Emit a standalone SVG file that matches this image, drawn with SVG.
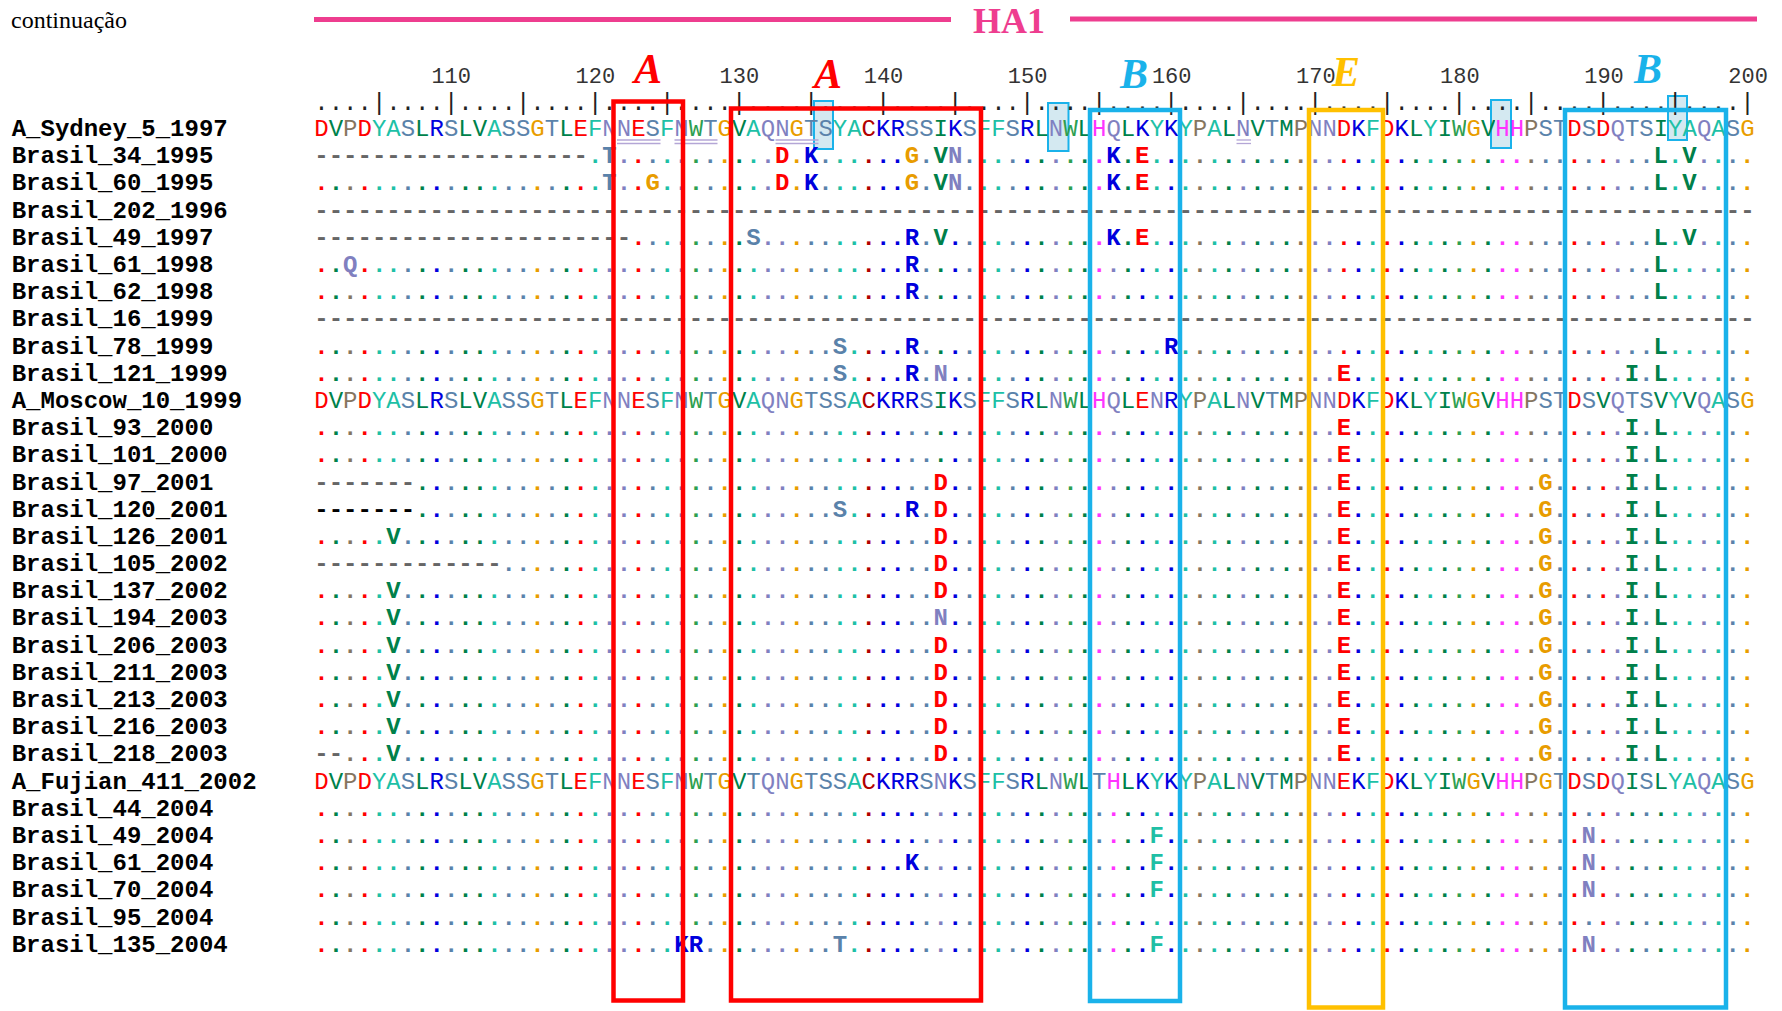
<svg xmlns="http://www.w3.org/2000/svg" width="1782" height="1011" viewBox="0 0 1782 1011">
<style>
.nm{font-family:"Liberation Mono",monospace;font-size:24px;font-weight:bold;fill:#000}
.sq{font-family:"Liberation Mono",monospace;font-size:24px}
.bd{font-weight:bold}
.cs{fill:url(#gS)}
.cf{fill:url(#gF)}
.r{fill:#ff0000;stop-color:#ff0000}
.g{fill:#00804a;stop-color:#00804a}
.p{fill:#857560;stop-color:#857560}
.t{fill:#1fbfa5;stop-color:#1fbfa5}
.s{fill:#5a82aa;stop-color:#5a82aa}
.b{fill:#0000dd;stop-color:#0000dd}
.o{fill:#e89c00;stop-color:#e89c00}
.n{fill:#8080c0;stop-color:#8080c0}
.w{fill:#2e9e50;stop-color:#2e9e50}
.c{fill:#b00000;stop-color:#b00000}
.m{fill:#ff33ff;stop-color:#ff33ff}
.d{fill:#666}
.k{fill:#000}
.num{font-family:"Liberation Mono",monospace;font-size:22px;fill:#333;text-anchor:middle}
.lab{font-family:"Liberation Serif",serif;font-style:italic;font-weight:bold;font-size:42px;text-anchor:middle}
.box{fill:none;stroke-width:4.5}
.hl{fill:#d4e9f1;stroke:#1ab2ea;stroke-width:2}
.ul{stroke:#b4a6d6;stroke-width:1.3}
</style>
<defs>
<linearGradient id="gS" gradientUnits="userSpaceOnUse" x1="314.3" y1="0" x2="1754.3" y2="0">
<stop offset="0" class="r"/><stop offset=".01" class="r"/><stop offset=".01" class="g"/><stop offset=".02" class="g"/><stop offset=".02" class="p"/><stop offset=".03" class="p"/><stop offset=".03" class="r"/><stop offset=".04" class="r"/><stop offset=".04" class="t"/><stop offset=".06" class="t"/><stop offset=".06" class="s"/><stop offset=".07" class="s"/><stop offset=".07" class="g"/><stop offset=".08" class="g"/><stop offset=".08" class="b"/><stop offset=".09" class="b"/><stop offset=".09" class="s"/><stop offset=".1" class="s"/><stop offset=".1" class="g"/><stop offset=".12" class="g"/><stop offset=".12" class="t"/><stop offset=".13" class="t"/><stop offset=".13" class="s"/><stop offset=".15" class="s"/><stop offset=".15" class="o"/><stop offset=".16" class="o"/><stop offset=".16" class="s"/><stop offset=".17" class="s"/><stop offset=".17" class="g"/><stop offset=".18" class="g"/><stop offset=".18" class="r"/><stop offset=".19" class="r"/><stop offset=".19" class="t"/><stop offset=".2" class="t"/><stop offset=".2" class="n"/><stop offset=".22" class="n"/><stop offset=".22" class="r"/><stop offset=".23" class="r"/><stop offset=".23" class="s"/><stop offset=".24" class="s"/><stop offset=".24" class="t"/><stop offset=".25" class="t"/><stop offset=".25" class="n"/><stop offset=".26" class="n"/><stop offset=".26" class="w"/><stop offset=".27" class="w"/><stop offset=".27" class="s"/><stop offset=".28" class="s"/><stop offset=".28" class="o"/><stop offset=".29" class="o"/><stop offset=".29" class="g"/><stop offset=".3" class="g"/><stop offset=".3" class="t"/><stop offset=".31" class="t"/><stop offset=".31" class="n"/><stop offset=".33" class="n"/><stop offset=".33" class="o"/><stop offset=".34" class="o"/><stop offset=".34" class="s"/><stop offset=".36" class="s"/><stop offset=".36" class="t"/><stop offset=".38" class="t"/><stop offset=".38" class="c"/><stop offset=".39" class="c"/><stop offset=".39" class="b"/><stop offset=".41" class="b"/><stop offset=".41" class="s"/><stop offset=".43" class="s"/><stop offset=".43" class="g"/><stop offset=".44" class="g"/><stop offset=".44" class="b"/><stop offset=".45" class="b"/><stop offset=".45" class="s"/><stop offset=".46" class="s"/><stop offset=".46" class="t"/><stop offset=".48" class="t"/><stop offset=".48" class="s"/><stop offset=".49" class="s"/><stop offset=".49" class="b"/><stop offset=".5" class="b"/><stop offset=".5" class="g"/><stop offset=".51" class="g"/><stop offset=".51" class="n"/><stop offset=".52" class="n"/><stop offset=".52" class="w"/><stop offset=".53" class="w"/><stop offset=".53" class="g"/><stop offset=".54" class="g"/><stop offset=".54" class="m"/><stop offset=".55" class="m"/><stop offset=".55" class="n"/><stop offset=".56" class="n"/><stop offset=".56" class="g"/><stop offset=".57" class="g"/><stop offset=".57" class="b"/><stop offset=".58" class="b"/><stop offset=".58" class="t"/><stop offset=".59" class="t"/><stop offset=".59" class="b"/><stop offset=".6" class="b"/><stop offset=".6" class="t"/><stop offset=".61" class="t"/><stop offset=".61" class="p"/><stop offset=".62" class="p"/><stop offset=".62" class="t"/><stop offset=".63" class="t"/><stop offset=".63" class="g"/><stop offset=".64" class="g"/><stop offset=".64" class="n"/><stop offset=".65" class="n"/><stop offset=".65" class="g"/><stop offset=".66" class="g"/><stop offset=".66" class="s"/><stop offset=".67" class="s"/><stop offset=".67" class="g"/><stop offset=".68" class="g"/><stop offset=".68" class="p"/><stop offset=".69" class="p"/><stop offset=".69" class="n"/><stop offset=".71" class="n"/><stop offset=".71" class="r"/><stop offset=".72" class="r"/><stop offset=".72" class="b"/><stop offset=".73" class="b"/><stop offset=".73" class="t"/><stop offset=".74" class="t"/><stop offset=".74" class="r"/><stop offset=".75" class="r"/><stop offset=".75" class="b"/><stop offset=".76" class="b"/><stop offset=".76" class="g"/><stop offset=".77" class="g"/><stop offset=".77" class="t"/><stop offset=".78" class="t"/><stop offset=".78" class="g"/><stop offset=".79" class="g"/><stop offset=".79" class="w"/><stop offset=".8" class="w"/><stop offset=".8" class="o"/><stop offset=".81" class="o"/><stop offset=".81" class="g"/><stop offset=".82" class="g"/><stop offset=".82" class="m"/><stop offset=".84" class="m"/><stop offset=".84" class="p"/><stop offset=".85" class="p"/><stop offset=".85" class="s"/><stop offset=".87" class="s"/><stop offset=".87" class="r"/><stop offset=".88" class="r"/><stop offset=".88" class="s"/><stop offset=".89" class="s"/><stop offset=".89" class="r"/><stop offset=".9" class="r"/><stop offset=".9" class="n"/><stop offset=".91" class="n"/><stop offset=".91" class="s"/><stop offset=".93" class="s"/><stop offset=".93" class="g"/><stop offset=".94" class="g"/><stop offset=".94" class="t"/><stop offset=".96" class="t"/><stop offset=".96" class="n"/><stop offset=".97" class="n"/><stop offset=".97" class="t"/><stop offset=".98" class="t"/><stop offset=".98" class="s"/><stop offset=".99" class="s"/><stop offset=".99" class="o"/><stop offset="1" class="o"/>
</linearGradient>
<linearGradient id="gF" gradientUnits="userSpaceOnUse" x1="314.3" y1="0" x2="1754.3" y2="0">
<stop offset="0" class="r"/><stop offset=".01" class="r"/><stop offset=".01" class="g"/><stop offset=".02" class="g"/><stop offset=".02" class="p"/><stop offset=".03" class="p"/><stop offset=".03" class="r"/><stop offset=".04" class="r"/><stop offset=".04" class="t"/><stop offset=".06" class="t"/><stop offset=".06" class="s"/><stop offset=".07" class="s"/><stop offset=".07" class="g"/><stop offset=".08" class="g"/><stop offset=".08" class="b"/><stop offset=".09" class="b"/><stop offset=".09" class="s"/><stop offset=".1" class="s"/><stop offset=".1" class="g"/><stop offset=".12" class="g"/><stop offset=".12" class="t"/><stop offset=".13" class="t"/><stop offset=".13" class="s"/><stop offset=".15" class="s"/><stop offset=".15" class="o"/><stop offset=".16" class="o"/><stop offset=".16" class="s"/><stop offset=".17" class="s"/><stop offset=".17" class="g"/><stop offset=".18" class="g"/><stop offset=".18" class="r"/><stop offset=".19" class="r"/><stop offset=".19" class="t"/><stop offset=".2" class="t"/><stop offset=".2" class="n"/><stop offset=".22" class="n"/><stop offset=".22" class="r"/><stop offset=".23" class="r"/><stop offset=".23" class="s"/><stop offset=".24" class="s"/><stop offset=".24" class="t"/><stop offset=".25" class="t"/><stop offset=".25" class="n"/><stop offset=".26" class="n"/><stop offset=".26" class="w"/><stop offset=".27" class="w"/><stop offset=".27" class="s"/><stop offset=".28" class="s"/><stop offset=".28" class="o"/><stop offset=".29" class="o"/><stop offset=".29" class="g"/><stop offset=".3" class="g"/><stop offset=".3" class="s"/><stop offset=".31" class="s"/><stop offset=".31" class="n"/><stop offset=".33" class="n"/><stop offset=".33" class="o"/><stop offset=".34" class="o"/><stop offset=".34" class="s"/><stop offset=".37" class="s"/><stop offset=".37" class="t"/><stop offset=".38" class="t"/><stop offset=".38" class="c"/><stop offset=".39" class="c"/><stop offset=".39" class="b"/><stop offset=".42" class="b"/><stop offset=".42" class="s"/><stop offset=".43" class="s"/><stop offset=".43" class="n"/><stop offset=".44" class="n"/><stop offset=".44" class="b"/><stop offset=".45" class="b"/><stop offset=".45" class="s"/><stop offset=".46" class="s"/><stop offset=".46" class="t"/><stop offset=".48" class="t"/><stop offset=".48" class="s"/><stop offset=".49" class="s"/><stop offset=".49" class="b"/><stop offset=".5" class="b"/><stop offset=".5" class="g"/><stop offset=".51" class="g"/><stop offset=".51" class="n"/><stop offset=".52" class="n"/><stop offset=".52" class="w"/><stop offset=".53" class="w"/><stop offset=".53" class="g"/><stop offset=".54" class="g"/><stop offset=".54" class="s"/><stop offset=".55" class="s"/><stop offset=".55" class="m"/><stop offset=".56" class="m"/><stop offset=".56" class="g"/><stop offset=".57" class="g"/><stop offset=".57" class="b"/><stop offset=".58" class="b"/><stop offset=".58" class="t"/><stop offset=".59" class="t"/><stop offset=".59" class="b"/><stop offset=".6" class="b"/><stop offset=".6" class="t"/><stop offset=".61" class="t"/><stop offset=".61" class="p"/><stop offset=".62" class="p"/><stop offset=".62" class="t"/><stop offset=".63" class="t"/><stop offset=".63" class="g"/><stop offset=".64" class="g"/><stop offset=".64" class="n"/><stop offset=".65" class="n"/><stop offset=".65" class="g"/><stop offset=".66" class="g"/><stop offset=".66" class="s"/><stop offset=".67" class="s"/><stop offset=".67" class="g"/><stop offset=".68" class="g"/><stop offset=".68" class="p"/><stop offset=".69" class="p"/><stop offset=".69" class="n"/><stop offset=".71" class="n"/><stop offset=".71" class="r"/><stop offset=".72" class="r"/><stop offset=".72" class="b"/><stop offset=".73" class="b"/><stop offset=".73" class="t"/><stop offset=".74" class="t"/><stop offset=".74" class="r"/><stop offset=".75" class="r"/><stop offset=".75" class="b"/><stop offset=".76" class="b"/><stop offset=".76" class="g"/><stop offset=".77" class="g"/><stop offset=".77" class="t"/><stop offset=".78" class="t"/><stop offset=".78" class="g"/><stop offset=".79" class="g"/><stop offset=".79" class="w"/><stop offset=".8" class="w"/><stop offset=".8" class="o"/><stop offset=".81" class="o"/><stop offset=".81" class="g"/><stop offset=".82" class="g"/><stop offset=".82" class="m"/><stop offset=".84" class="m"/><stop offset=".84" class="p"/><stop offset=".85" class="p"/><stop offset=".85" class="o"/><stop offset=".86" class="o"/><stop offset=".86" class="s"/><stop offset=".87" class="s"/><stop offset=".87" class="r"/><stop offset=".88" class="r"/><stop offset=".88" class="s"/><stop offset=".89" class="s"/><stop offset=".89" class="r"/><stop offset=".9" class="r"/><stop offset=".9" class="n"/><stop offset=".91" class="n"/><stop offset=".91" class="g"/><stop offset=".92" class="g"/><stop offset=".92" class="s"/><stop offset=".93" class="s"/><stop offset=".93" class="g"/><stop offset=".94" class="g"/><stop offset=".94" class="t"/><stop offset=".96" class="t"/><stop offset=".96" class="n"/><stop offset=".97" class="n"/><stop offset=".97" class="t"/><stop offset=".98" class="t"/><stop offset=".98" class="s"/><stop offset=".99" class="s"/><stop offset=".99" class="o"/><stop offset="1" class="o"/>
</linearGradient>
</defs>
<rect width="1782" height="1011" fill="#fff"/>

<g id="header">
<text x="11" y="28" font-family="Liberation Serif, serif" font-size="24" fill="#000">continuação</text>
<line x1="314" y1="19.5" x2="951" y2="19.5" stroke="#ee3d8f" stroke-width="5"/>
<line x1="1070" y1="19" x2="1757" y2="19" stroke="#ee3d8f" stroke-width="5"/>
<text x="1009" y="33" font-family="Liberation Serif, serif" font-weight="bold" font-size="36" fill="#ee3d8f" text-anchor="middle">HA1</text>
</g>

<g id="highlights">
<rect class="hl" x="814" y="101" width="19" height="48"/>
<rect class="hl" x="1048" y="103" width="20.5" height="48"/>
<rect class="hl" x="1491" y="100" width="20" height="48"/>
<rect class="hl" x="1668" y="96" width="19" height="44"/>
<line class="ul" x1="617" y1="140" x2="660.5" y2="140"/><line class="ul" x1="617" y1="143.5" x2="660.5" y2="143.5"/>
<line class="ul" x1="674.5" y1="140" x2="717.5" y2="140"/><line class="ul" x1="674.5" y1="143.5" x2="717.5" y2="143.5"/>
<line class="ul" x1="775.5" y1="140" x2="818.5" y2="140"/><line class="ul" x1="775.5" y1="143.5" x2="818.5" y2="143.5"/>
<line class="ul" x1="1236.5" y1="140" x2="1251" y2="140"/><line class="ul" x1="1236.5" y1="143.5" x2="1251" y2="143.5"/>
</g>

<g id="ruler">
<text class="num" x="451.2" y="83">110</text>
<text class="num" x="595.3" y="83">120</text>
<text class="num" x="739.4" y="83">130</text>
<text class="num" x="883.5" y="83">140</text>
<text class="num" x="1027.6" y="83">150</text>
<text class="num" x="1171.7" y="83">160</text>
<text class="num" x="1315.8" y="83">170</text>
<text class="num" x="1459.9" y="83">180</text>
<text class="num" x="1604" y="83">190</text>
<text class="num" x="1748.1" y="83">200</text>
<text class="sq" x="314.3" y="110" fill="#222">....|....|....|....|....|....|....|....|....|....|....|....|....|....|....|....|....|....|....|....|</text>
</g>

<g id="site-labels">
<text class="lab" x="648" y="83" fill="#ff0000">A</text>
<text class="lab" x="828" y="88" fill="#ff0000">A</text>
<text class="lab" x="1134" y="88" fill="#1ab2ea">B</text>
<text class="lab" x="1346" y="86" fill="#ffc000">E</text>
<text class="lab" x="1648" y="83" fill="#1ab2ea">B</text>
</g>

<g id="names" class="nm">
<text x="11.7" y="136">A_Sydney_5_1997</text>
<text x="11.7" y="163.2">Brasil_34_1995</text>
<text x="11.7" y="190.4">Brasil_60_1995</text>
<text x="11.7" y="217.6">Brasil_202_1996</text>
<text x="11.7" y="244.8">Brasil_49_1997</text>
<text x="11.7" y="272">Brasil_61_1998</text>
<text x="11.7" y="299.1">Brasil_62_1998</text>
<text x="11.7" y="326.3">Brasil_16_1999</text>
<text x="11.7" y="353.5">Brasil_78_1999</text>
<text x="11.7" y="380.7">Brasil_121_1999</text>
<text x="11.7" y="407.9">A_Moscow_10_1999</text>
<text x="11.7" y="435.1">Brasil_93_2000</text>
<text x="11.7" y="462.3">Brasil_101_2000</text>
<text x="11.7" y="489.5">Brasil_97_2001</text>
<text x="11.7" y="516.7">Brasil_120_2001</text>
<text x="11.7" y="543.9">Brasil_126_2001</text>
<text x="11.7" y="571">Brasil_105_2002</text>
<text x="11.7" y="598.2">Brasil_137_2002</text>
<text x="11.7" y="625.4">Brasil_194_2003</text>
<text x="11.7" y="652.6">Brasil_206_2003</text>
<text x="11.7" y="679.8">Brasil_211_2003</text>
<text x="11.7" y="707">Brasil_213_2003</text>
<text x="11.7" y="734.2">Brasil_216_2003</text>
<text x="11.7" y="761.4">Brasil_218_2003</text>
<text x="11.7" y="788.6">A_Fujian_411_2002</text>
<text x="11.7" y="815.8">Brasil_44_2004</text>
<text x="11.7" y="842.9">Brasil_49_2004</text>
<text x="11.7" y="870.1">Brasil_61_2004</text>
<text x="11.7" y="897.3">Brasil_70_2004</text>
<text x="11.7" y="924.5">Brasil_95_2004</text>
<text x="11.7" y="951.7">Brasil_135_2004</text>
</g>

<g id="alignment">
<text class="sq cs" x="314.3" y="136">DVPDYASLRSLVASSGTLEFNNESFNWTGVAQNGTSYACKRSSIKSFFSRLNWLHQLKYKYPALNVTMPNNDKFDKLYIWGVHHPSTDSDQTSIYAQASG</text>
<text class="sq bd cs" x="314.3" y="163.2"><tspan class="d">-------------------</tspan>.<tspan class="s" x="602.3">T</tspan>...........<tspan class="r" x="775.1">D</tspan>.<tspan class="b">K</tspan>......<tspan class="o" x="904.7">G</tspan>.<tspan class="g">V</tspan><tspan class="n">N</tspan>..........<tspan class="b" x="1106.3">K</tspan>.<tspan class="r">E</tspan>...................................<tspan class="g" x="1653.5">L</tspan>.<tspan class="g">V</tspan>....</text>
<text class="sq bd cs" x="314.3" y="190.4">....................<tspan class="s" x="602.3">T</tspan>..<tspan class="o">G</tspan>........<tspan class="r" x="775.1">D</tspan>.<tspan class="b">K</tspan>......<tspan class="o" x="904.7">G</tspan>.<tspan class="g">V</tspan><tspan class="n">N</tspan>..........<tspan class="b" x="1106.3">K</tspan>.<tspan class="r">E</tspan>...................................<tspan class="g" x="1653.5">L</tspan>.<tspan class="g">V</tspan>....</text>
<text class="sq bd d" x="314.3" y="217.6">----------------------------------------------------------------------------------------------------</text>
<text class="sq bd cs" x="314.3" y="244.8"><tspan class="d">----------------------</tspan>........<tspan class="s" x="746.3">S</tspan>..........<tspan class="b" x="904.7">R</tspan>.<tspan class="g">V</tspan>...........<tspan class="b" x="1106.3">K</tspan>.<tspan class="r">E</tspan>...................................<tspan class="g" x="1653.5">L</tspan>.<tspan class="g">V</tspan>....</text>
<text class="sq bd cs" x="314.3" y="272">..<tspan class="n">Q</tspan>......................................<tspan class="b" x="904.7">R</tspan>...................................................<tspan class="g" x="1653.5">L</tspan>......</text>
<text class="sq bd cs" x="314.3" y="299.1">.........................................<tspan class="b" x="904.7">R</tspan>...................................................<tspan class="g" x="1653.5">L</tspan>......</text>
<text class="sq bd d" x="314.3" y="326.3">----------------------------------------------------------------------------------------------------</text>
<text class="sq bd cs" x="314.3" y="353.5">....................................<tspan class="s" x="832.7">S</tspan>....<tspan class="b">R</tspan>.................<tspan class="b" x="1163.9">R</tspan>.................................<tspan class="g" x="1653.5">L</tspan>......</text>
<text class="sq bd cs" x="314.3" y="380.7">....................................<tspan class="s" x="832.7">S</tspan>....<tspan class="b">R</tspan>.<tspan class="n">N</tspan>...........................<tspan class="r" x="1336.7">E</tspan>...................<tspan class="g" x="1624.7">I</tspan>.<tspan class="g">L</tspan>......</text>
<text class="sq cs" x="314.3" y="407.9">DVPDYASLRSLVASSGTLEFNNESFNWTGVAQNGTS<tspan class="s">S</tspan>ACKR<tspan class="b">R</tspan>SIKSFFSRLNWLHQL<tspan class="r">E</tspan><tspan class="n">N</tspan>RYPALNVTMPNNDKFDKLYIWGVHHPSTDS<tspan class="g">V</tspan>QTSVY<tspan class="g">V</tspan>QASG</text>
<text class="sq bd cs" x="314.3" y="435.1">.......................................................................<tspan class="r" x="1336.7">E</tspan>...................<tspan class="g" x="1624.7">I</tspan>.<tspan class="g">L</tspan>......</text>
<text class="sq bd cs" x="314.3" y="462.3">.......................................................................<tspan class="r" x="1336.7">E</tspan>...................<tspan class="g" x="1624.7">I</tspan>.<tspan class="g">L</tspan>......</text>
<text class="sq bd cs" x="314.3" y="489.5"><tspan class="d">-------</tspan>....................................<tspan class="r" x="933.5">D</tspan>...........................<tspan class="r" x="1336.7">E</tspan>.............<tspan class="o" x="1538.3">G</tspan>.....<tspan class="g" x="1624.7">I</tspan>.<tspan class="g">L</tspan>......</text>
<text class="sq bd cs" x="314.3" y="516.7"><tspan class="k">-------</tspan>.............................<tspan class="s" x="832.7">S</tspan>....<tspan class="b">R</tspan>.<tspan class="r">D</tspan>...........................<tspan class="r" x="1336.7">E</tspan>.............<tspan class="o" x="1538.3">G</tspan>.....<tspan class="g" x="1624.7">I</tspan>.<tspan class="g">L</tspan>......</text>
<text class="sq bd cs" x="314.3" y="543.9">.....<tspan class="g" x="386.3">V</tspan>.....................................<tspan class="r" x="933.5">D</tspan>...........................<tspan class="r" x="1336.7">E</tspan>.............<tspan class="o" x="1538.3">G</tspan>.....<tspan class="g" x="1624.7">I</tspan>.<tspan class="g">L</tspan>......</text>
<text class="sq bd cs" x="314.3" y="571"><tspan class="d">-------------</tspan>..............................<tspan class="r" x="933.5">D</tspan>...........................<tspan class="r" x="1336.7">E</tspan>.............<tspan class="o" x="1538.3">G</tspan>.....<tspan class="g" x="1624.7">I</tspan>.<tspan class="g">L</tspan>......</text>
<text class="sq bd cs" x="314.3" y="598.2">.....<tspan class="g" x="386.3">V</tspan>.....................................<tspan class="r" x="933.5">D</tspan>...........................<tspan class="r" x="1336.7">E</tspan>.............<tspan class="o" x="1538.3">G</tspan>.....<tspan class="g" x="1624.7">I</tspan>.<tspan class="g">L</tspan>......</text>
<text class="sq bd cs" x="314.3" y="625.4">.....<tspan class="g" x="386.3">V</tspan>.....................................<tspan class="n" x="933.5">N</tspan>...........................<tspan class="r" x="1336.7">E</tspan>.............<tspan class="o" x="1538.3">G</tspan>.....<tspan class="g" x="1624.7">I</tspan>.<tspan class="g">L</tspan>......</text>
<text class="sq bd cs" x="314.3" y="652.6">.....<tspan class="g" x="386.3">V</tspan>.....................................<tspan class="r" x="933.5">D</tspan>...........................<tspan class="r" x="1336.7">E</tspan>.............<tspan class="o" x="1538.3">G</tspan>.....<tspan class="g" x="1624.7">I</tspan>.<tspan class="g">L</tspan>......</text>
<text class="sq bd cs" x="314.3" y="679.8">.....<tspan class="g" x="386.3">V</tspan>.....................................<tspan class="r" x="933.5">D</tspan>...........................<tspan class="r" x="1336.7">E</tspan>.............<tspan class="o" x="1538.3">G</tspan>.....<tspan class="g" x="1624.7">I</tspan>.<tspan class="g">L</tspan>......</text>
<text class="sq bd cs" x="314.3" y="707">.....<tspan class="g" x="386.3">V</tspan>.....................................<tspan class="r" x="933.5">D</tspan>...........................<tspan class="r" x="1336.7">E</tspan>.............<tspan class="o" x="1538.3">G</tspan>.....<tspan class="g" x="1624.7">I</tspan>.<tspan class="g">L</tspan>......</text>
<text class="sq bd cs" x="314.3" y="734.2">.....<tspan class="g" x="386.3">V</tspan>.....................................<tspan class="r" x="933.5">D</tspan>...........................<tspan class="r" x="1336.7">E</tspan>.............<tspan class="o" x="1538.3">G</tspan>.....<tspan class="g" x="1624.7">I</tspan>.<tspan class="g">L</tspan>......</text>
<text class="sq bd cs" x="314.3" y="761.4"><tspan class="d">--</tspan>...<tspan class="g" x="386.3">V</tspan>.....................................<tspan class="r" x="933.5">D</tspan>...........................<tspan class="r" x="1336.7">E</tspan>.............<tspan class="o" x="1538.3">G</tspan>.....<tspan class="g" x="1624.7">I</tspan>.<tspan class="g">L</tspan>......</text>
<text class="sq cf" x="314.3" y="788.6">DVPDYASLRSLVASSGTLEFNNESFNWTGVTQNGTSSACKRRSNKSFFSRLNWLTHLKYKYPALNVTMPNNEKFDKLYIWGVHHPGTDSDQISLYAQASG</text>
<text class="sq bd cf" x="314.3" y="815.8">....................................................................................................</text>
<text class="sq bd cf" x="314.3" y="842.9">..........................................................<tspan class="t" x="1149.5">F</tspan>.............................<tspan class="n" x="1581.5">N</tspan>...........</text>
<text class="sq bd cf" x="314.3" y="870.1">.........................................<tspan class="b" x="904.7">K</tspan>................<tspan class="t" x="1149.5">F</tspan>.............................<tspan class="n" x="1581.5">N</tspan>...........</text>
<text class="sq bd cf" x="314.3" y="897.3">..........................................................<tspan class="t" x="1149.5">F</tspan>.............................<tspan class="n" x="1581.5">N</tspan>...........</text>
<text class="sq bd cf" x="314.3" y="924.5">....................................................................................................</text>
<text class="sq bd cf" x="314.3" y="951.7">.........................<tspan class="b" x="674.3">K</tspan><tspan class="b">R</tspan>.........<tspan class="s" x="832.7">T</tspan>.....................<tspan class="t" x="1149.5">F</tspan>.............................<tspan class="n" x="1581.5">N</tspan>...........</text>
</g>

<g id="site-boxes">
<rect class="box" x="613.5" y="101.5" width="69.5" height="899" stroke="#ff0000"/>
<rect class="box" x="731" y="108.5" width="250" height="892" stroke="#ff0000"/>
<rect class="box" x="1090" y="110" width="90" height="891" stroke="#1ab2ea"/>
<rect class="box" x="1309" y="110" width="74" height="897.5" stroke="#ffc000"/>
<rect class="box" x="1565" y="110" width="161" height="897.5" stroke="#1ab2ea"/>
</g>
</svg>
